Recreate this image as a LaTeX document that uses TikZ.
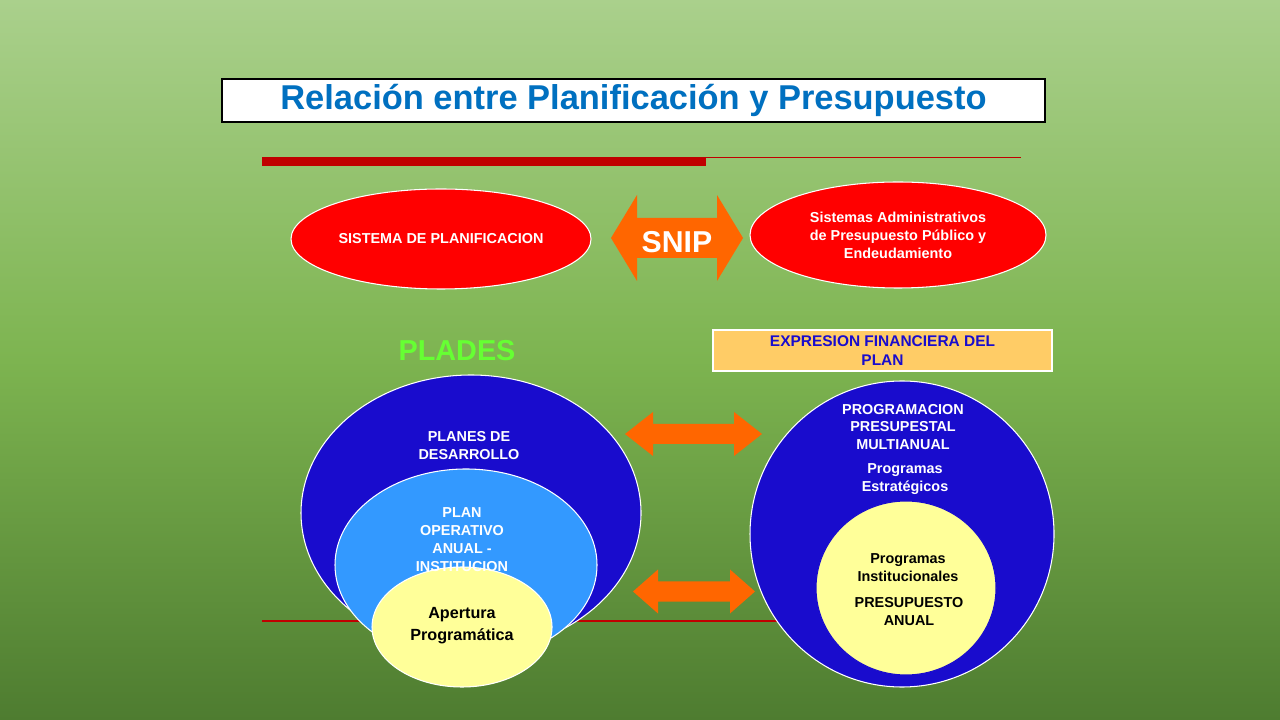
\documentclass[tikz,border=0pt]{standalone}
\usepackage{fontspec}
\setmainfont{Liberation Sans}
\usetikzlibrary{shapes.geometric}
\definecolor{titleblue}{RGB}{0,112,192}
\definecolor{deepblue}{RGB}{25,12,205}
\definecolor{lightblue}{RGB}{51,153,255}
\definecolor{paleyellow}{RGB}{255,255,153}
\definecolor{arrorange}{RGB}{255,102,0}
\definecolor{boxorange}{RGB}{255,204,102}
\definecolor{pladesgreen}{RGB}{102,255,51}
\definecolor{barred}{RGB}{192,0,0}
% double arrow: left x, right x, centre y, half height, half shaft, head length
\def\dblarrow(#1,#2,#3,#4,#5,#6){\fill[arrorange] (#1,#3) -- (#1+#6,#3-#4) -- (#1+#6,#3-#5) -- (#2-#6,#3-#5) -- (#2-#6,#3-#4) -- (#2,#3) -- (#2-#6,#3+#4) -- (#2-#6,#3+#5) -- (#1+#6,#3+#5) -- (#1+#6,#3+#4) -- cycle;}
\begin{document}
\begin{tikzpicture}[x=1cm,y=-1cm,
  lbl/.style={font=\bfseries\fontsize{4.1}{5.1}\selectfont, align=center, text=white},
  dark/.style={font=\bfseries\fontsize{4.1}{5.1}\selectfont, align=center, text=black}]
			%%%%% BACKGROUND %%%%%
			\shade[top color={rgb,255:red,170;green,208;blue,140}, bottom color={rgb,255:red,78;green,124;blue,48}, middle color={rgb,255:red,125;green,180;blue,80}] (0,0) rectangle (12.8,7.2);
			\useasboundingbox (0,0) rectangle (12.8,7.2);
			
			%%%%% TITLE %%%%%
			\node[draw=black, line width=0.3pt, fill=white, minimum width=8.23cm, minimum height=0.43cm, inner sep=0pt, text=titleblue, font=\bfseries\fontsize{9.8}{11}\selectfont] (title) at (6.335,1.005) {Relación entre Planificación y Presupuesto};
			\fill[barred] (2.62,1.57) rectangle (7.06,1.66);
			\draw[barred, line width=0.3pt] (7.06,1.575) -- (10.21,1.575);
			\draw[barred, line width=0.3pt] (2.62,6.21) -- (7.8,6.21);
			
			%%%%% TOP ROW %%%%%
			\node[ellipse, fill=red, draw=white, line width=0.3pt, minimum width=3.0cm, minimum height=1.0cm, inner sep=0pt, lbl] (plan) at (4.41,2.39) {SISTEMA DE PLANIFICACION};
			\dblarrow(6.11,7.43,2.38,0.43,0.2,0.26)
			\node[text=white, font=\bfseries\fontsize{8.6}{10}\selectfont] (snip) at (6.77,2.42) {SNIP};
			\node[ellipse, fill=red, draw=white, line width=0.3pt, minimum width=2.96cm, minimum height=1.06cm, inner sep=0pt, lbl] (sistemas) at (8.98,2.35) {Sistemas Administrativos\\de Presupuesto Público y\\Endeudamiento};
			
			%%%%% HEADINGS %%%%%
			\node[text=pladesgreen, font=\bfseries\fontsize{8.2}{10}\selectfont] (plades) at (4.57,3.51) {PLADES};
			\node[draw=white, line width=0.3pt, fill=boxorange, minimum width=3.39cm, minimum height=0.41cm, inner sep=1pt, text=deepblue, font=\bfseries\fontsize{4.4}{5.4}\selectfont, align=center] (expresion) at (8.825,3.505) {EXPRESION FINANCIERA DEL\\PLAN};
			
			%%%%% LEFT CIRCLES %%%%%
			\draw[fill=deepblue, draw=white, line width=0.3pt] (4.71,5.13) ellipse (1.70 and 1.38);
			\draw[fill=lightblue, draw=white, line width=0.3pt] (4.66,5.65) ellipse (1.31 and 0.96);
			\draw[fill=paleyellow, draw=white, line width=0.3pt] (4.62,6.27) ellipse (0.90 and 0.60);
			\node[lbl] (planes) at (4.69,4.46) {PLANES DE\\DESARROLLO};
			\node[lbl] (poa) at (4.62,5.40) {PLAN\\OPERATIVO\\ANUAL -\\INSTITUCION};
			\node[dark, font=\bfseries\fontsize{4.6}{6.2}\selectfont] (apertura) at (4.62,6.26) {Apertura\\Programática};
			
			%%%%% RIGHT CIRCLES %%%%%
			\draw[fill=deepblue, draw=white, line width=0.3pt] (9.02,5.34) ellipse (1.52 and 1.53);
			\draw[fill=paleyellow, draw=deepblue, line width=0.3pt] (9.06,5.88) ellipse (0.90 and 0.87);
			\node[lbl] (multianual) at (9.03,4.27) {PROGRAMACION\\PRESUPESTAL\\MULTIANUAL};
			\node[lbl] (estrategicos) at (9.05,4.79) {Programas\\Estratégicos};
			\node[dark] (institucionales) at (9.08,5.68) {Programas\\Institucionales};
			\node[dark] (presupuesto) at (9.09,6.12) {PRESUPUESTO\\ANUAL};
			
			%%%%% ARROWS %%%%%
			\dblarrow(6.25,7.62,4.34,0.22,0.1,0.28)
			\dblarrow(6.33,7.55,5.915,0.22,0.1,0.25)
		\end{tikzpicture}
\end{document}
